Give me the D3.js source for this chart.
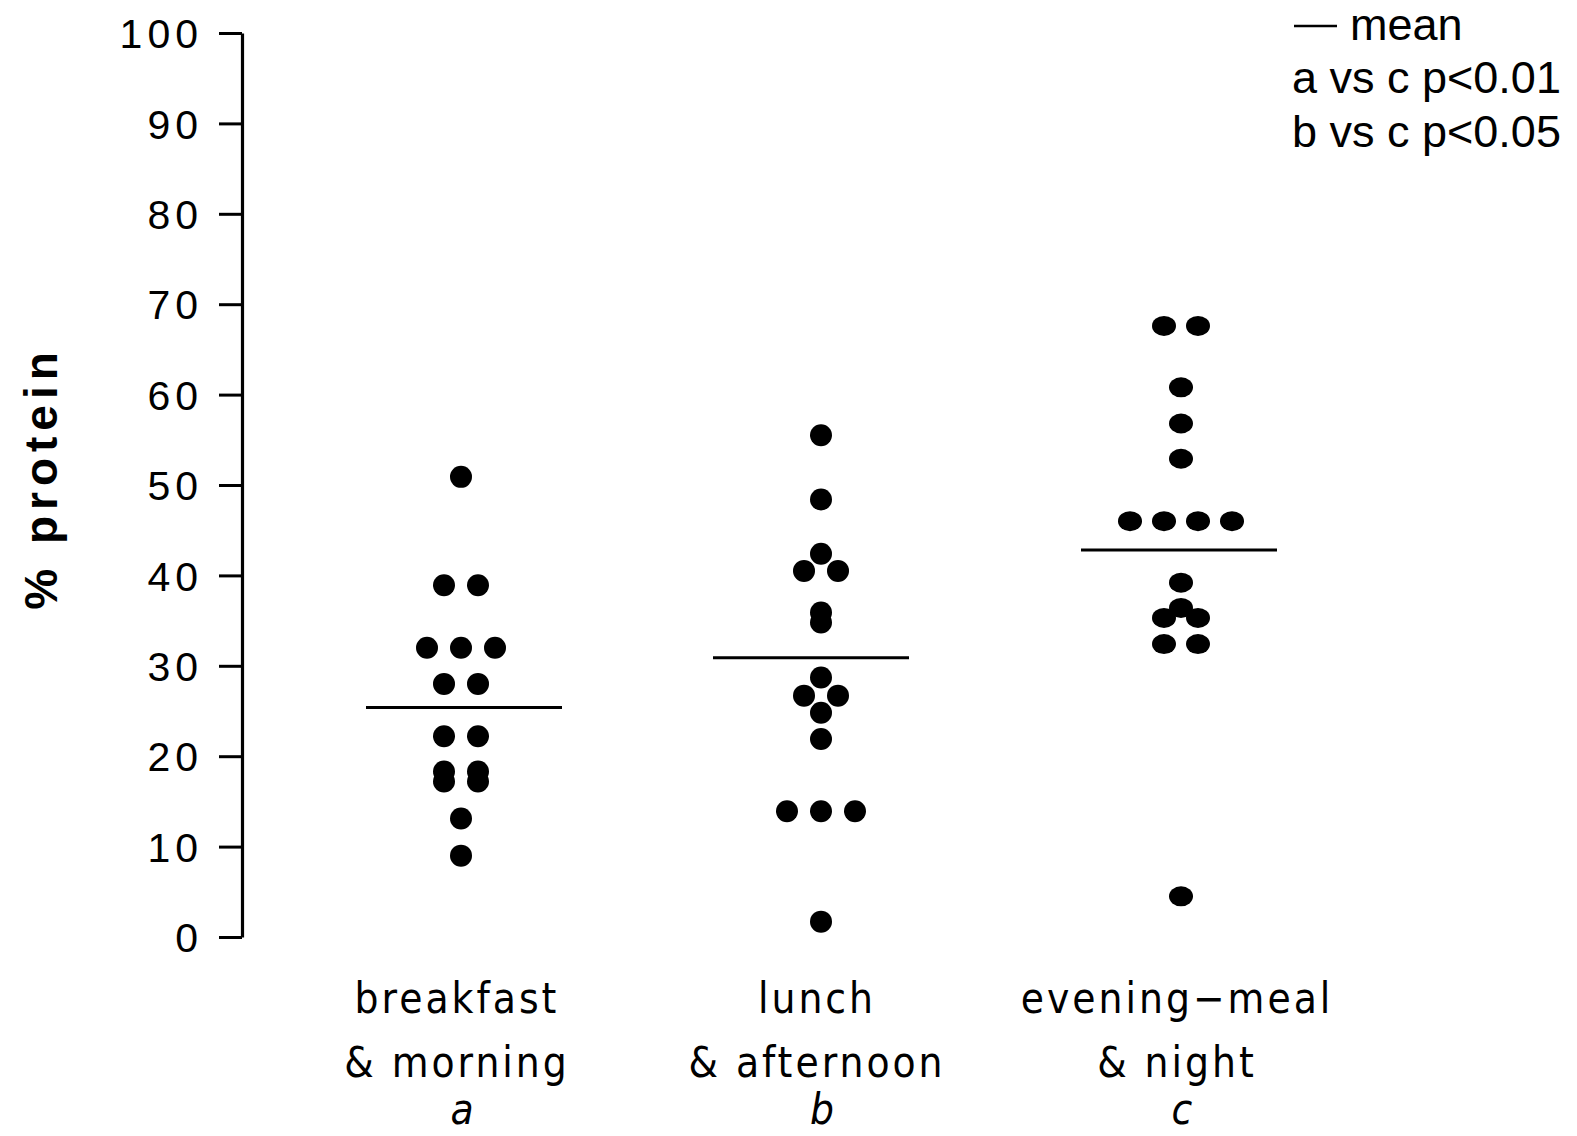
<!DOCTYPE html>
<html>
<head>
<meta charset="utf-8">
<script src="https://cdn.jsdelivr.net/npm/d3@7/dist/d3.min.js"></script>
<style>
  html, body { margin: 0; padding: 0; background: #fff; }
  svg { display: block; }
</style>
</head>
<body>
<svg id="chart" width="1577" height="1136"></svg>
<script>
// ---- data ----
const groupKeys = ["a", "b", "c"];
const labelLine1 = ["breakfast", "lunch", "evening\u2212meal"];
const labelLine2 = ["& morning", "& afternoon", "& night"];
const breakfast = [50.9, 38.9, 38.9, 32.0, 32.0, 32.0, 28.0, 28.0, 22.2, 22.2, 18.3, 18.3, 17.2, 17.2, 13.1, 9.0];
const lunch = [55.5, 48.4, 42.4, 40.5, 40.5, 35.9, 34.8, 28.7, 26.7, 26.7, 24.8, 21.9, 13.9, 13.9, 13.9, 1.7];
const evening = [67.6, 67.6, 60.8, 56.8, 52.9, 46.0, 46.0, 46.0, 46.0, 39.2, 36.4, 35.3, 35.3, 32.4, 32.4, 4.5];
const means = [25.4, 30.9, 42.8];
const yTicks = [0, 10, 20, 30, 40, 50, 60, 70, 80, 90, 100];
const legendLines = ["a vs c p<0.01", "b vs c p<0.05"];
const yTitle = "% protein";

const series = [breakfast, lunch, evening];

// ---- scales ----
const svg = d3.select("#chart");
const y = d3.scaleLinear().domain([0, 100]).range([937, 33]);
const x = d3.scalePoint().domain(groupKeys).range([461, 1181]);

const sans = "'Liberation Sans', Arial, Helvetica, sans-serif";
const narrow = "'Liberation Sans Narrow', 'DejaVu Sans Condensed', 'Liberation Sans', sans-serif";

// ---- y axis ----
const axis = d3.axisLeft(y).tickValues(yTicks).tickSize(23).tickSizeOuter(0).tickPadding(16);
const gAxis = svg.append("g").attr("transform", "translate(242,0)").call(axis);
gAxis.select(".domain").attr("stroke", "#000").attr("stroke-width", 3.2);
gAxis.selectAll(".tick line").attr("stroke", "#000").attr("stroke-width", 3);
gAxis.selectAll(".tick text")
  .attr("fill", "#000")
  .style("font-family", sans)
  .style("font-size", "41px")
  .style("letter-spacing", "5px")
  .attr("dy", "0.36em");

// y title
svg.append("text")
  .attr("transform", "translate(57,478) rotate(-90)")
  .attr("text-anchor", "middle")
  .style("font-family", sans)
  .style("font-weight", "bold")
  .style("font-size", "46px")
  .style("letter-spacing", "6px")
  .text(yTitle);

// ---- dots (rows of equal values centered, spacing 34) ----
const spacing = 34;
series.forEach((vals, gi) => {
  const key = groupKeys[gi];
  const rows = d3.groups(vals, v => v);
  const pts = [];
  rows.forEach(([v, arr]) => {
    const n = arr.length;
    arr.forEach((_, i) => pts.push({ v, dx: (i - (n - 1) / 2) * spacing }));
  });
  svg.append("g").selectAll("ellipse").data(pts).join("ellipse")
    .attr("cx", d => x(key) + d.dx)
    .attr("cy", d => y(d.v))
    .attr("rx", gi === 2 ? 12 : 11)
    .attr("ry", gi === 2 ? 10 : 11)
    .attr("fill", "#000");
});

// ---- mean lines ----
const meanShift = [3, -10, -2];
svg.append("g").selectAll("line").data(means).join("line")
  .attr("x1", (d, i) => x(groupKeys[i]) + meanShift[i] - 98)
  .attr("x2", (d, i) => x(groupKeys[i]) + meanShift[i] + 98)
  .attr("y1", d => y(d))
  .attr("y2", d => y(d))
  .attr("stroke", "#000")
  .attr("stroke-width", 3);

// ---- category labels ----
const gLab = svg.append("g").attr("text-anchor", "middle").style("font-family", narrow);
groupKeys.forEach((k, i) => {
  gLab.append("text").attr("x", x(k) - 4).attr("y", 1013)
    .style("font-size", "42px").style("letter-spacing", "3px").text(labelLine1[i]);
  gLab.append("text").attr("x", x(k) - 4).attr("y", 1077)
    .style("font-size", "42px").style("letter-spacing", "3px").text(labelLine2[i]);
  gLab.append("text").attr("x", x(k) + 1).attr("y", 1124)
    .style("font-size", "42px").style("font-style", "italic").text(k);
});

// ---- legend ----
const lg = svg.append("g").style("font-family", sans).style("font-size", "45px");
lg.append("line").attr("x1", 1294).attr("x2", 1337).attr("y1", 26).attr("y2", 26)
  .attr("stroke", "#000").attr("stroke-width", 2.5);
lg.append("text").attr("x", 1350).attr("y", 40).text("mean");
legendLines.forEach((t, i) => {
  lg.append("text").attr("x", 1292).attr("y", 93 + i * 54).text(t);
});
</script>
</body>
</html>
